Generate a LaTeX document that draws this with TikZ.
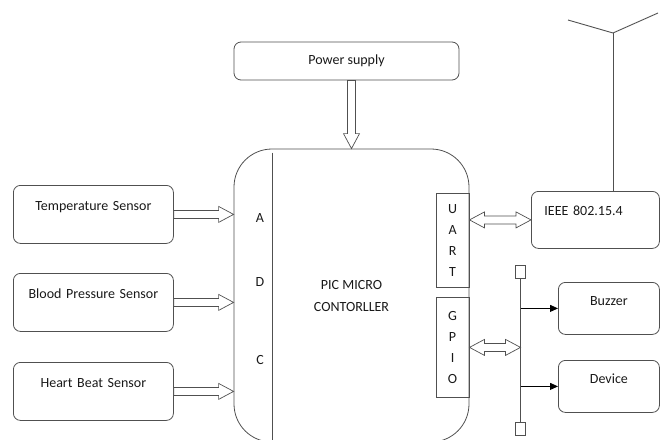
\documentclass[tikz,border=0pt]{standalone}
\usepackage{fontspec}
\setmainfont{Carlito}
\usetikzlibrary{calc,arrows.meta}
\definecolor{linegray}{RGB}{80,80,80}

% hollow block arrow from #1 to #2
\newcommand{\fatarrow}[2]{%
  \coordinate (fah) at ($(#2)!15pt!(#1)$);
  \draw[fatline] ($(#1)!4pt!90:(#2)$) -- ($(fah)!4pt!90:(#2)$) -- ($(fah)!8pt!90:(#2)$) -- (#2)
    -- ($(fah)!8pt!-90:(#2)$) -- ($(fah)!4pt!-90:(#2)$) -- ($(#1)!4pt!-90:(#2)$) -- cycle;}
% hollow block arrow with two heads
\newcommand{\dfatarrow}[2]{%
  \coordinate (fha) at ($(#1)!15pt!(#2)$);
  \coordinate (fhb) at ($(#2)!15pt!(#1)$);
  \draw[fatline] (#1) -- ($(fha)!8pt!90:(#2)$) -- ($(fha)!4pt!90:(#2)$) -- ($(fhb)!4pt!90:(#2)$)
    -- ($(fhb)!8pt!90:(#2)$) -- (#2) -- ($(fhb)!8pt!-90:(#2)$) -- ($(fhb)!4pt!-90:(#2)$)
    -- ($(fha)!4pt!-90:(#2)$) -- ($(fha)!8pt!-90:(#2)$) -- cycle;}

\begin{document}
\begin{tikzpicture}[x=1pt, y=-1pt,
    font=\fontsize{14pt}{16pt}\selectfont, text=black!90,
    box/.style={draw=linegray, line width=0.8pt, rounded corners=7pt, inner sep=0pt, align=center},
    sensorbox/.style={box, anchor=north west, text width=160pt, text height=25pt, text depth=33pt},
    outbox/.style={box, anchor=north west, text width=101pt, text height=23pt, text depth=29pt},
    portbox/.style={draw=linegray, line width=0.8pt, minimum width=33pt, inner sep=0pt, align=center,
      anchor=north east, font=\fontsize{14pt}{21pt}\selectfont},
    fatline/.style={draw=linegray, line width=0.7pt, fill=white, line join=miter},
    wire/.style={draw=linegray, line width=0.9pt},
    pad/.style={draw=linegray, line width=0.8pt, minimum width=10pt, minimum height=13pt, inner sep=0pt}]

    \useasboundingbox (0,0) rectangle (660,439);
    \clip (0,0) rectangle (660,439);

    % Power supply
    \node[box, minimum width=225pt, minimum height=38pt] (power) at (346.5,61) {Power supply};

    % Micro controller
    \node[box, rounded corners=38pt, minimum width=235pt, minimum height=293pt,
      font=\fontsize{14pt}{22pt}\selectfont] (mcu) at (351.5,295.5) {PIC MICRO\\CONTORLLER};
    \draw[wire] ($(mcu.north west)+(39,4)$) -- ($(mcu.south west)+(39,0)$);
    \node (adcA) at (260,218) {A};
    \node (adcD) at (260,282) {D};
    \node (adcC) at (260,360) {C};
    \node[portbox, minimum height=94pt] (uart) at (469.5,193) {U\\A\\R\\T};
    \node[portbox, minimum height=100pt] (gpio) at (469.5,297) {G\\P\\I\\O};

    % Sensors
    \node[sensorbox] (temp) at (13,185) {Temperature Sensor};
    \node[sensorbox] (bp) at (13,273) {Blood Pressure Sensor};
    \node[sensorbox] (heart) at (13,362) {Heart Beat Sensor};

    % Outputs
    \node[outbox, text width=102pt, inner xsep=13pt, align=left, text height=24pt, text depth=33pt]
      (ieee) at (531,191) {IEEE 802.15.4};
    \node[outbox] (buzzer) at (558,282) {Buzzer};
    \node[outbox] (device) at (558,360) {Device};

    % Antenna
    \coordinate (ant) at (613,33);
    \coordinate (antl) at (568,20);
    \coordinate (antr) at (658,13);
    \draw[wire] (antl) -- (ant) -- (antr);
    \draw[wire] (ant) -- (ant |- ieee.north);

    % GPIO bus
    \node[pad] (padtop) at (520.5,272) {};
    \node[pad] (padbot) at (520.5,429) {};
    \draw[wire] (padtop) -- (padbot);
    \draw[wire, draw=black, -{Triangle[length=8pt,width=7pt]}] (padtop |- buzzer.west) -- (buzzer.west);
    \draw[wire, draw=black, -{Triangle[length=8pt,width=7pt]}] (padtop |- device.west) -- (device.west);

    % Block arrows
    \coordinate (pout) at (mcu.north |- power.south);
    \fatarrow{pout}{mcu.north}
    \coordinate (tin) at (temp.east -| mcu.west);
    \coordinate (bpin) at (bp.east -| mcu.west);
    \coordinate (hin) at (heart.east -| mcu.west);
    \fatarrow{temp.east}{tin}
    \fatarrow{bp.east}{bpin}
    \fatarrow{heart.east}{hin}
    \coordinate (uartout) at (uart.east |- ieee.west);
    \dfatarrow{uartout}{ieee.west}
    \coordinate (gpiobus) at (gpio.east -| padtop);
    \dfatarrow{gpio.east}{gpiobus}
\end{tikzpicture}
\end{document}
